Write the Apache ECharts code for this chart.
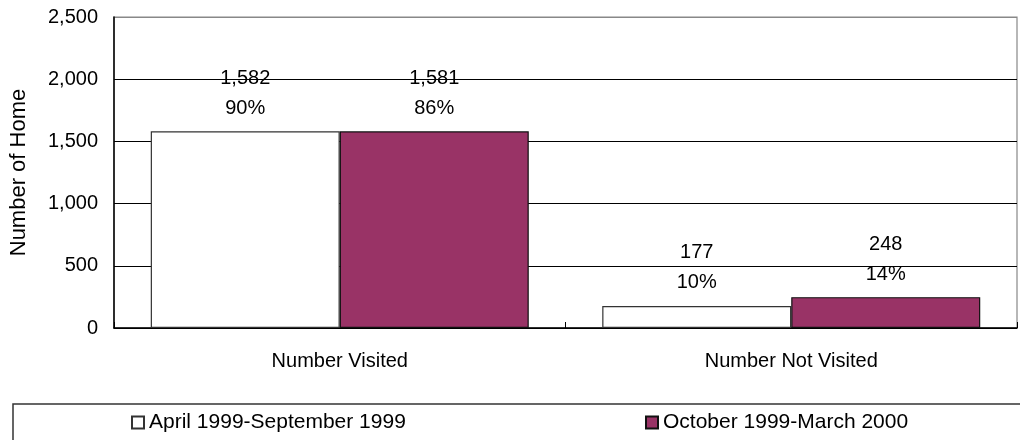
<!DOCTYPE html>
<html>
<head>
<meta charset="utf-8">
<script src="https://cdn.jsdelivr.net/npm/echarts@6/dist/echarts.min.js"></script>
<style>
  html, body { margin: 0; padding: 0; background: #fff; }
  #chart { width: 1020px; height: 440px; }
</style>
</head>
<body>
<div id="chart"></div>
<script>
// data
const categories = ["Number Visited", "Number Not Visited"];
const seriesNames = ["April 1999-September 1999", "October 1999-March 2000"];
const aprSep = [1582, 177];
const octMar = [1581, 248];
const aprSepPct = [90, 10];
const octMarPct = [86, 14];
const yTicks = [0, 500, 1000, 1500, 2000, 2500];

const font = "'Liberation Sans', Arial, sans-serif";

function fmt(n) {
  return n.toLocaleString("en-US");
}

function makeLabel(pcts) {
  return {
    show: true,
    position: "top",
    distance: 8,
    formatter: function (p) {
      return "{v|" + fmt(p.value) + "}\n{p|" + pcts[p.dataIndex] + "%}";
    },
    rich: {
      v: { fontFamily: font, fontSize: 20, color: "#000", lineHeight: 30 },
      p: { fontFamily: font, fontSize: 20, color: "#000", lineHeight: 30 }
    }
  };
}

const chart = echarts.init(document.getElementById("chart"));
chart.setOption({
  animation: false,
  textStyle: { fontFamily: font },
  grid: {
    left: 114, right: 3, top: 17, bottom: 112,
    show: true, borderColor: "#888", borderWidth: 1.2, backgroundColor: "transparent"
  },
  graphic: [{
    type: "rect",
    shape: { x: 13, y: 404, width: 1030, height: 60 },
    style: { fill: "none", stroke: "#333", lineWidth: 1.5 },
    silent: true
  }],
  legend: [
    {
      data: [seriesNames[0]],
      left: 131, top: 412, padding: 0,
      icon: "rect", itemWidth: 12, itemHeight: 12,
      textStyle: { fontFamily: font, fontSize: 21, color: "#000" }
    },
    {
      data: [seriesNames[1]],
      left: 645, top: 412, padding: 0,
      icon: "rect", itemWidth: 12, itemHeight: 12,
      textStyle: { fontFamily: font, fontSize: 21, color: "#000" }
    }
  ],
  xAxis: {
    type: "category",
    data: categories,
    axisLine: { lineStyle: { color: "#000", width: 1.5 } },
    axisTick: { show: true, inside: true, length: 6, lineStyle: { color: "#000" } },
    axisLabel: { fontFamily: font, fontSize: 20, color: "#000", margin: 23 }
  },
  yAxis: {
    type: "value",
    min: yTicks[0],
    max: yTicks[yTicks.length - 1],
    interval: 500,
    name: "Number of Home",
    nameLocation: "middle",
    nameGap: 84,
    nameTextStyle: { fontFamily: font, fontSize: 22, color: "#000" },
    axisLine: { show: true, lineStyle: { color: "#000", width: 1.5 } },
    axisTick: { show: false },
    axisLabel: {
      fontFamily: font, fontSize: 20, color: "#000", margin: 16,
      formatter: function (v) { return fmt(v); }
    },
    splitLine: {
      show: true,
      lineStyle: { color: ["#000", "#000", "#000", "#000", "#000", "#888"], width: 1.2 }
    }
  },
  series: [
    {
      name: seriesNames[0],
      type: "bar",
      data: aprSep,
      barWidth: 189,
      barGap: "0%",
      itemStyle: { color: "#fff", borderColor: "#333", borderWidth: 1.2 },
      label: makeLabel(aprSepPct)
    },
    {
      name: seriesNames[1],
      type: "bar",
      data: octMar,
      barWidth: 189,
      itemStyle: { color: "#993366", borderColor: "#111", borderWidth: 1.2 },
      label: makeLabel(octMarPct)
    }
  ]
});
</script>
</body>
</html>
